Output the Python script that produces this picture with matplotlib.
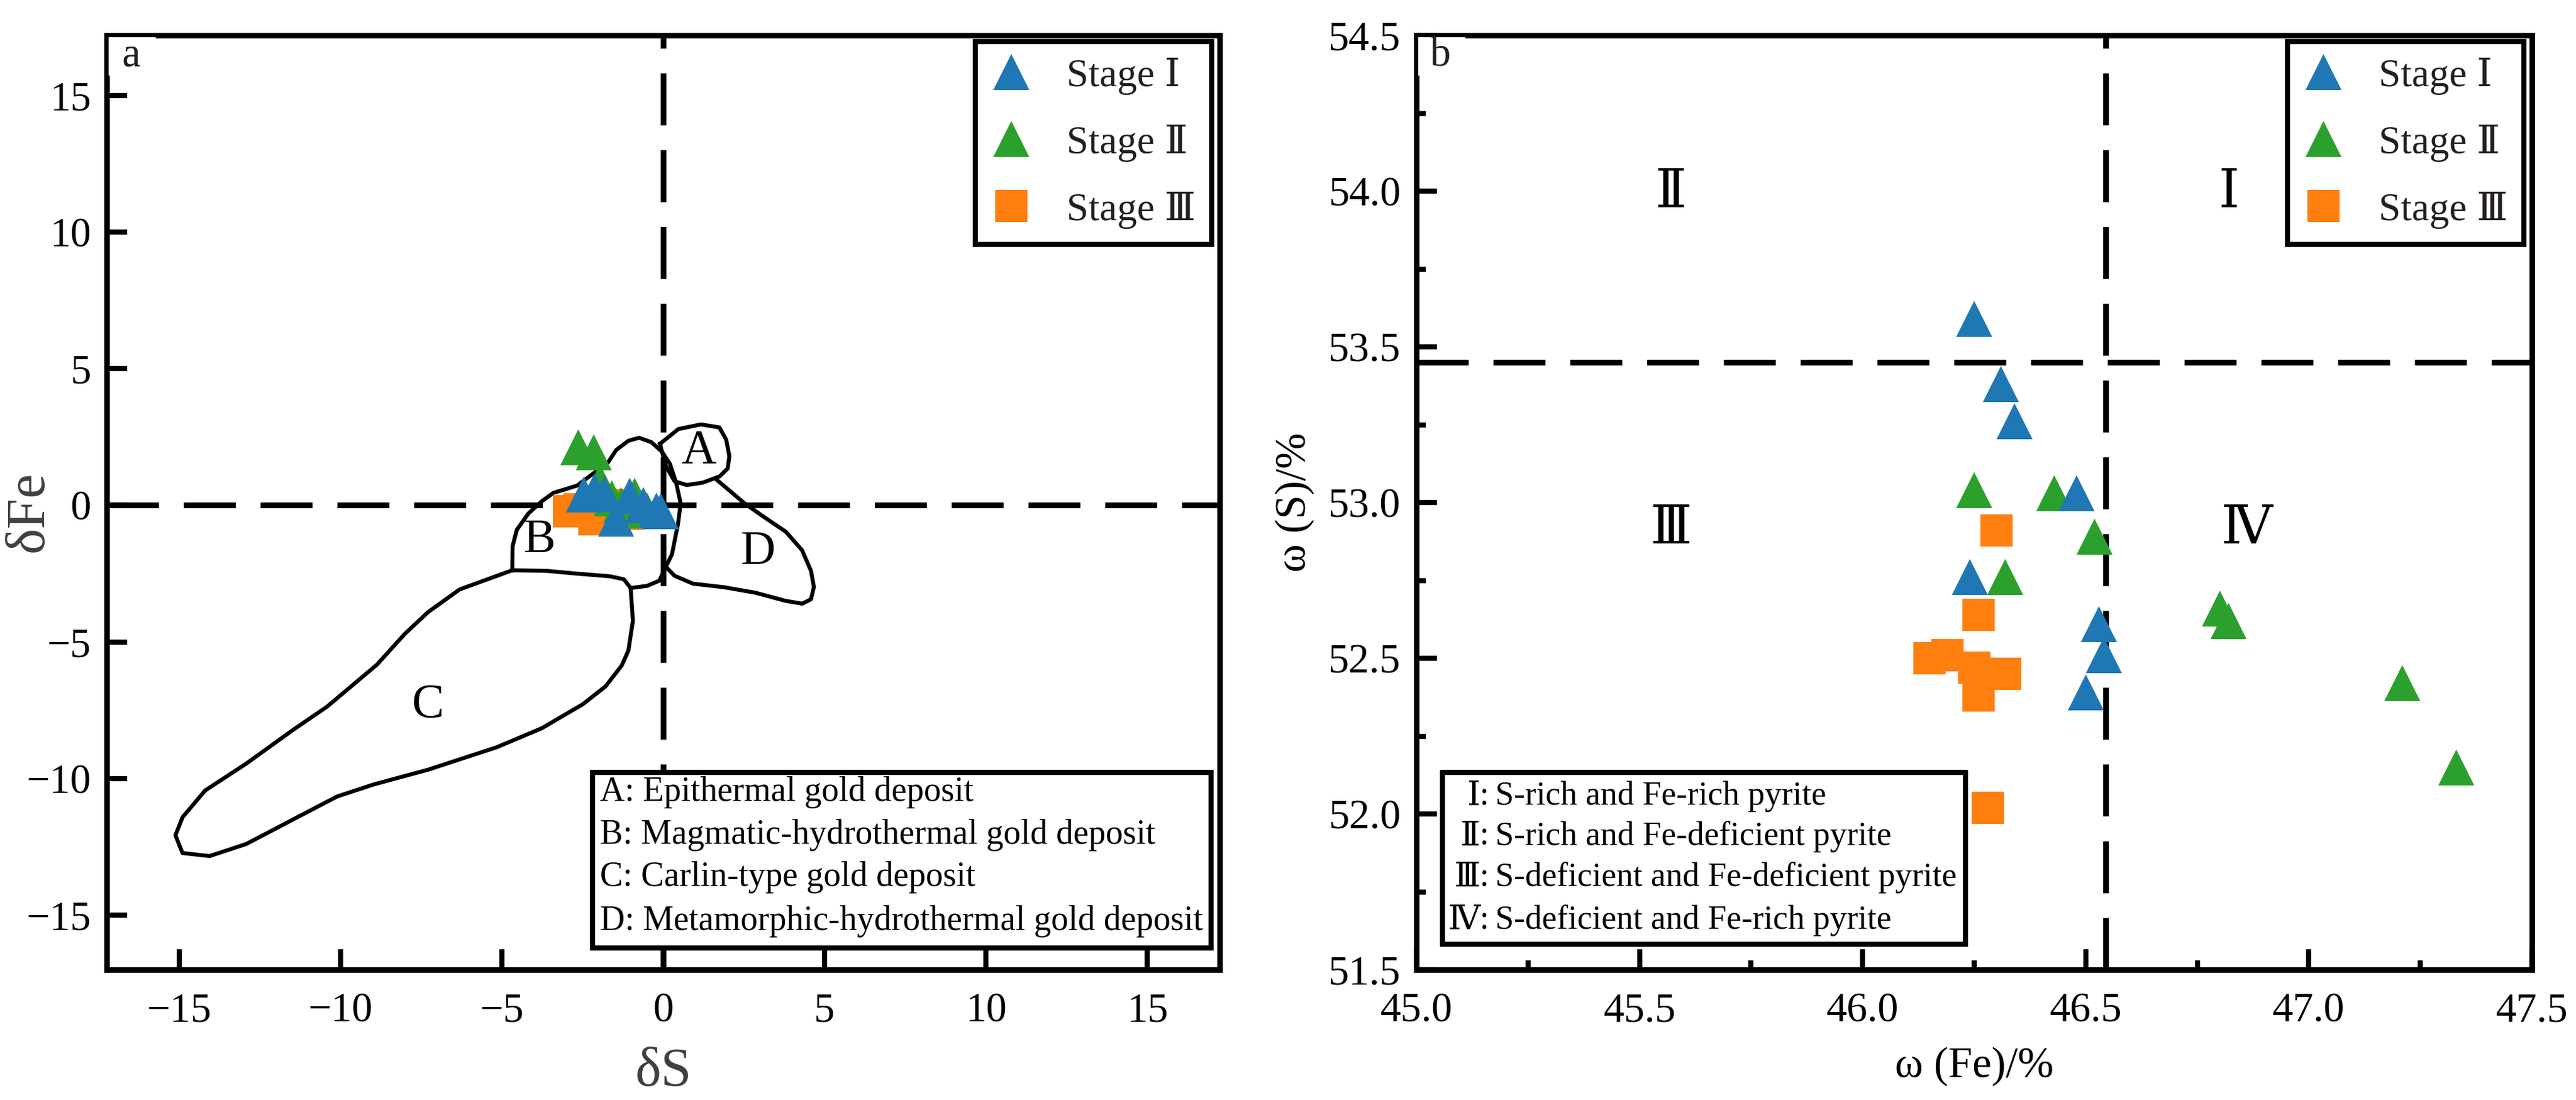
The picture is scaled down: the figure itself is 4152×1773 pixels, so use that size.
import matplotlib
matplotlib.use("Agg")
import matplotlib.pyplot as plt
from matplotlib.lines import Line2D
from matplotlib.patches import Rectangle
from matplotlib.ticker import MultipleLocator, FormatStrFormatter

plt.rcParams['font.family'] = ['Liberation Serif', 'DejaVu Serif']
plt.rcParams['axes.unicode_minus'] = True

# ---- panel a: deviation values (dS, dFe) ----
stage1_ds = [-2.46, -2.13, -1.83, -1.47, -1.04, -0.62, -0.21, -0.08]
stage1_dfe = [0.40, 0.52, 0.41, -0.48, 0.34, 0.00, -0.19, -0.22]
stage2_ds = [-2.64, -2.15, -1.97, -1.60, -1.30, -0.90, -0.88, -0.50]
stage2_dfe = [2.11, 1.95, 0.86, 0.27, 0.00, -0.10, 0.34, -0.20]
stage3_ds = [-2.92, -2.14, -2.60, -2.30, -1.90, -1.60, -1.33, -1.10]
stage3_dfe = [-0.22, -0.52, -0.15, -0.20, -0.10, 0.00, -0.27, -0.30]

# field outlines (dS, dFe)
field_a_ds = [-0.10, 0.47, 1.17, 1.74, 1.95, 2.05, 2.00, 1.75, 1.23, 0.73, 0.35, 0.08, -0.04, -0.10]
field_a_dfe = [2.25, 2.79, 2.96, 2.85, 2.41, 1.80, 1.35, 1.06, 0.83, 0.74, 0.88, 1.45, 1.96, 2.25]
field_b_ds = [-4.68, -4.67, -4.54, -4.18, -3.76, -3.41, -2.67, -1.71, -1.46, -1.08, -0.75, -0.37,
              -0.04, 0.21, 0.40, 0.54, 0.46, 0.27, 0.08, -0.12, -0.50, -1.01]
field_b_dfe = [-2.38, -1.50, -0.90, -0.30, 0.15, 0.45, 0.72, 1.57, 2.02, 2.36, 2.47, 2.31,
               1.96, 1.51, 0.83, 0.07, -0.67, -1.80, -2.25, -2.76, -2.95, -3.03]
field_c_ds = [-4.68, -3.62, -2.70, -1.65, -1.22, -1.01, -0.94, -1.08, -1.29, -1.79, -2.49, -3.76,
              -5.17, -7.29, -8.98, -10.11, -11.52, -12.93, -14.06, -14.90, -15.12, -14.90,
              -14.20, -12.93, -11.52, -10.42, -8.88, -8.02, -7.29, -6.31, -4.68]
field_c_dfe = [-2.38, -2.40, -2.50, -2.60, -2.71, -3.03, -4.23, -5.32, -5.87, -6.63, -7.28, -8.16,
               -8.86, -9.68, -10.22, -10.66, -11.53, -12.40, -12.84, -12.73, -12.08, -11.42,
               -10.44, -9.46, -8.26, -7.37, -5.84, -4.72, -3.91, -3.08, -2.38]
field_d_ds = [1.62, 2.52, 3.15, 3.80, 4.30, 4.58, 4.67, 4.58, 4.31, 3.80, 2.85, 1.88, 0.92, 0.35, 0.08]
field_d_dfe = [0.97, 0.07, -0.45, -0.97, -1.64, -2.40, -2.99, -3.44, -3.60, -3.50, -3.20, -3.00,
               -2.87, -2.58, -2.25]
field_names = ["A", "B", "C", "D"]
field_label_pos = [(1.1, 1.98), (-3.83, -1.29), (-7.29, -7.34), (2.94, -1.73)]
field_notes = ["A: Epithermal gold deposit",
               "B: Magmatic-hydrothermal gold deposit",
               "C: Carlin-type gold deposit",
               "D: Metamorphic-hydrothermal gold deposit"]

# ---- panel b: w(Fe), w(S) in % ----
stage1_fe = [46.25, 46.31, 46.34, 46.48, 46.24, 46.53, 46.54, 46.50]
stage1_s = [53.59, 53.38, 53.26, 53.03, 52.76, 52.61, 52.51, 52.39]
stage2_fe = [46.25, 46.43, 46.52, 46.32, 46.80, 46.82, 47.21, 47.33]
stage2_s = [53.04, 53.03, 52.89, 52.76, 52.66, 52.62, 52.42, 52.15]
stage3_fe = [46.30, 46.26, 46.15, 46.19, 46.25, 46.32, 46.26, 46.28]
stage3_s = [52.91, 52.64, 52.50, 52.51, 52.47, 52.45, 52.38, 52.02]
fe_ideal = 46.545
s_ideal = 53.45
quad_names = ["Ⅱ", "Ⅰ", "Ⅲ", "Ⅳ"]
quad_pos = [(45.57, 53.99), (46.82, 53.99), (45.57, 52.91), (46.86, 52.91)]
quad_notes = ["S-rich and Fe-rich pyrite",
              "S-rich and Fe-deficient pyrite",
              "S-deficient and Fe-deficient pyrite",
              "S-deficient and Fe-rich pyrite"]
quad_keys = ["Ⅰ", "Ⅱ", "Ⅲ", "Ⅳ"]

stage_labels = ["Stage Ⅰ", "Stage Ⅱ", "Stage Ⅲ"]
BLUE, GREEN, ORANGE = "#1f77b4", "#2ca02c", "#ff7f0e"
DASH = dict(color="k", lw=3.35, dashes=(9, 4.3), zorder=1.5)
TRI, SQ = 21, 19


def style_axes(ax):
    for sp in ax.spines.values():
        sp.set_linewidth(3.2)
    ax.tick_params(which="both", direction="in", top=False, right=False, width=3,
                   labelsize=24)
    ax.tick_params(which="major", length=12)
    ax.tick_params(axis="x", which="major", pad=13)
    ax.tick_params(axis="y", which="major", pad=9)
    ax.tick_params(which="minor", length=5.5)


def add_stage_legend(ax):
    handles = [Line2D([], [], ls="none", marker="^", ms=TRI, mew=0, color=BLUE),
               Line2D([], [], ls="none", marker="^", ms=TRI, mew=0, color=GREEN),
               Line2D([], [], ls="none", marker="s", ms=SQ, mew=0, color=ORANGE)]
    leg = ax.legend(handles, stage_labels, loc="upper right", bbox_to_anchor=(0.9928, 0.9934),
                    borderaxespad=0, fontsize=23, fancybox=False, edgecolor="k",
                    framealpha=1, handlelength=1.0, handletextpad=0.9, labelspacing=0.75,
                    borderpad=0.4)
    leg.get_frame().set_linewidth(3)
    leg.set_zorder(8)
    for t in leg.get_texts():
        t.set_color("#231f20")


def add_panel_tag(ax, tag):
    ax.add_patch(Rectangle((0.0018, 0.957), 0.042, 0.041, transform=ax.transAxes,
                           fc="white", ec="none", zorder=9, clip_on=False))
    ax.text(0.0217, 0.978, tag, transform=ax.transAxes, ha="center", va="center",
            fontsize=24, color="#231f20", zorder=10)


fig = plt.figure(figsize=(20.76, 8.865), dpi=200)
ax1 = fig.add_axes([0.04143, 0.11844, 0.43208, 0.84941])
ax2 = fig.add_axes([0.54985, 0.11844, 0.43304, 0.84941])

# ---------- panel a ----------
ax1.axhline(0, **DASH)
ax1.axvline(0, **DASH)
for xs, ys in [(field_a_ds, field_a_dfe), (field_b_ds, field_b_dfe),
               (field_c_ds, field_c_dfe), (field_d_ds, field_d_dfe)]:
    ax1.plot(xs, ys, color="k", lw=2.3, zorder=2, solid_joinstyle="round")
for name, (x, y) in zip(field_names, field_label_pos):
    ax1.text(x, y, name, fontsize=28, ha="center", va="center", zorder=2)

ax1.plot(stage3_ds, stage3_dfe, ls="none", marker="s", ms=SQ, mew=0, color=ORANGE, zorder=3)
ax1.plot(stage2_ds, stage2_dfe, ls="none", marker="^", ms=TRI, mew=0, color=GREEN, zorder=4)
ax1.plot(stage1_ds, stage1_dfe, ls="none", marker="^", ms=TRI, mew=0, color=BLUE, zorder=5)

ax1.set_xlim(-17.25, 17.25)
ax1.set_ylim(-17.0, 17.2)
ax1.xaxis.set_major_locator(MultipleLocator(5))
ax1.yaxis.set_major_locator(MultipleLocator(5))
style_axes(ax1)
ax1.set_xlabel("δS", fontsize=32, color="#404040", labelpad=10)
ax1.set_ylabel("δFe", fontsize=32, color="#404040")
ax1.yaxis.set_label_coords(-0.047, 0.49)

ax1.add_patch(Rectangle((0.4365, 0.0232), 0.5557, 0.188, transform=ax1.transAxes,
                        fc="white", ec="k", lw=3, zorder=6))
for note, yb in zip(field_notes, [0.1806, 0.1348, 0.0896, 0.0425]):
    ax1.text(0.443, yb, note, transform=ax1.transAxes, fontsize=20, va="baseline",
             ha="left", zorder=7)
add_stage_legend(ax1)
add_panel_tag(ax1, "a")

# ---------- panel b ----------
ax2.axhline(s_ideal, **DASH)
ax2.axvline(fe_ideal, **DASH)
for name, (x, y) in zip(quad_names, quad_pos):
    ax2.text(x, y, name, fontsize=31, ha="center", va="center", zorder=2)

ax2.plot(stage3_fe, stage3_s, ls="none", marker="s", ms=SQ, mew=0, color=ORANGE, zorder=3)
ax2.plot(stage2_fe, stage2_s, ls="none", marker="^", ms=TRI, mew=0, color=GREEN, zorder=4)
ax2.plot(stage1_fe, stage1_s, ls="none", marker="^", ms=TRI, mew=0, color=BLUE, zorder=5)

ax2.set_xlim(45.0, 47.5)
ax2.set_ylim(51.5, 54.5)
ax2.xaxis.set_major_locator(MultipleLocator(0.5))
ax2.xaxis.set_minor_locator(MultipleLocator(0.25))
ax2.yaxis.set_major_locator(MultipleLocator(0.5))
ax2.yaxis.set_minor_locator(MultipleLocator(0.25))
ax2.xaxis.set_major_formatter(FormatStrFormatter("%.1f"))
ax2.yaxis.set_major_formatter(FormatStrFormatter("%.1f"))
style_axes(ax2)
ax2.set_xlabel("ω (Fe)/%", fontsize=25, labelpad=10)
ax2.set_ylabel("ω (S)/%", fontsize=25, labelpad=8)

ax2.add_patch(Rectangle((0.0234, 0.0272), 0.4688, 0.184, transform=ax2.transAxes,
                        fc="white", ec="k", lw=3, zorder=6))
for key, note, yb in zip(quad_keys, quad_notes, [0.1766, 0.1335, 0.0896, 0.0438]):
    ax2.text(0.0575, yb, key, transform=ax2.transAxes, fontsize=19.5, va="baseline",
             ha="right", zorder=7)
    ax2.text(0.0610, yb, ":", transform=ax2.transAxes, fontsize=19.5, va="baseline",
             ha="center", zorder=7)
    ax2.text(0.0706, yb, note, transform=ax2.transAxes, fontsize=19.5, va="baseline",
             ha="left", zorder=7)
add_stage_legend(ax2)
add_panel_tag(ax2, "b")

fig.savefig("out.png", dpi=200, facecolor="white")
